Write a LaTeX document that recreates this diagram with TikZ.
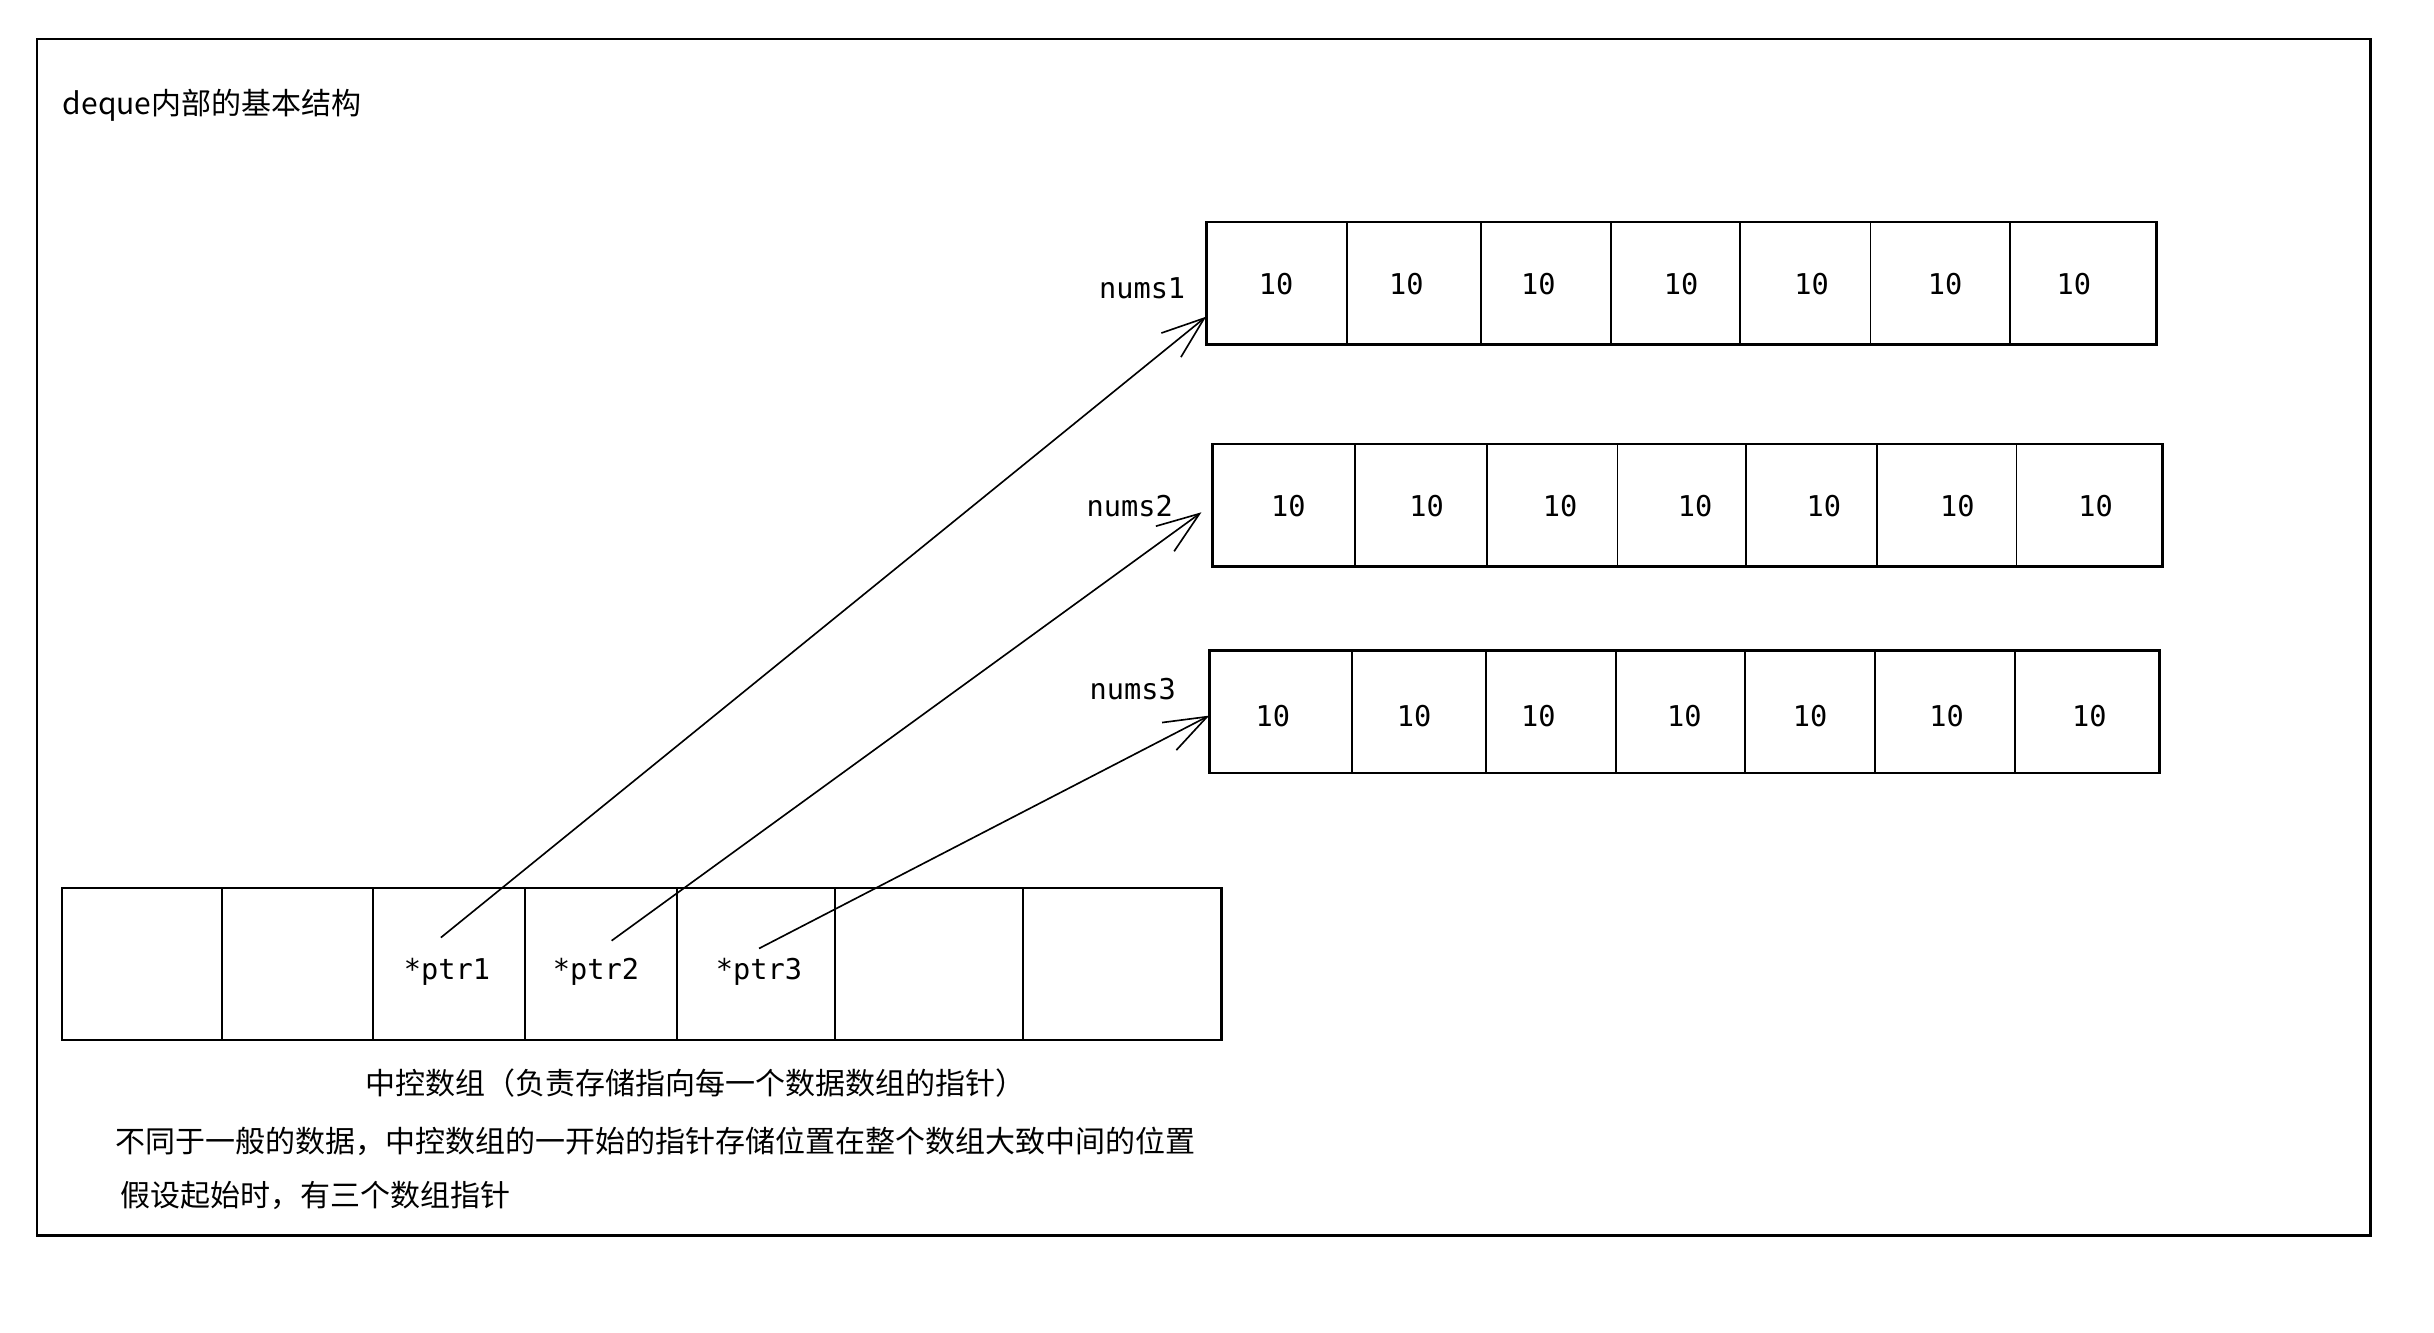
\documentclass[tikz,border=0pt]{standalone}
\usepackage{fontspec}
\usepackage{tikz}
\usetikzlibrary{arrows.meta}
\newfontfamily\cjk{Noto Sans CJK SC}
\newfontfamily\mono{DejaVu Sans Mono}
\def\cellnode{\node[font=\mono\fontsize{10.5}{12}\selectfont]}
\def\notenode{\node[anchor=west,font=\cjk\fontsize{11}{13}\selectfont]}

\begin{document}
\begin{tikzpicture}[x=0.02cm,y=-0.02cm,line width=0.7pt,
  ptr/.style={-{Straight Barb[length=5.5mm,width=4mm]},line width=0.6pt}]
\useasboundingbox (0,0) rectangle (1568,858.1);
\draw[line width=0.9pt] (24,25) rectangle (1527,796);
\notenode (title) at (34,68) {deque内部的基本结构};
% nums1
\draw[line width=1pt] (777,143) rectangle (1389,222);
\foreach \x in {868,954,1038,1121,1205,1295} \draw (\x,143) -- (\x,222);
\foreach \x [count=\i] in {822,906,991,1083,1167,1253,1336}
  \cellnode (a\i) at (\x,183) {10};
\cellnode[anchor=east] (nums1) at (770,186) {nums1};
% nums2
\draw[line width=1pt] (781,286) rectangle (1393,365);
\foreach \x in {873,958,1042,1125,1209,1299} \draw (\x,286) -- (\x,365);
\foreach \x [count=\i] in {830,919,1005,1092,1175,1261,1350}
  \cellnode (b\i) at (\x,326) {10};
\cellnode[anchor=east] (nums2) at (762,326) {nums2};
% nums3
\draw[line width=1pt] (779,419) rectangle (1391,498);
\foreach \x in {871,957,1041,1124,1208,1298} \draw (\x,419) -- (\x,498);
\foreach \x [count=\i] in {820,911,991,1085,1166,1254,1346}
  \cellnode (c\i) at (\x,461) {10};
\cellnode[anchor=east] (nums3) at (764,444) {nums3};
% map array
\draw[line width=1pt] (40,572) rectangle (787,670);
\foreach \x in {143,240,338,436,538,659} \draw (\x,572) -- (\x,670);
\cellnode (ptr1) at (288,626) {*ptr1};
\cellnode (ptr2) at (384,626) {*ptr2};
\cellnode (ptr3) at (489,626) {*ptr3};
\coordinate (s1) at (284,604);
\coordinate (s2) at (394,606);
\coordinate (s3) at (489,611);
\coordinate (t1) at (777,204);
\coordinate (t2) at (774,330);
\coordinate (t3) at (779,461);
\draw[ptr] (s1) -- (t1);
\draw[ptr] (s2) -- (t2);
\draw[ptr] (s3) -- (t3);
\notenode (note1) at (229,698) {中控数组（负责存储指向每一个数据数组的指针）};
\notenode (note2) at (68,735) {不同于一般的数据，中控数组的一开始的指针存储位置在整个数组大致中间的位置};
\notenode (note3) at (71,770) {假设起始时，有三个数组指针};
\end{tikzpicture}
\end{document}
